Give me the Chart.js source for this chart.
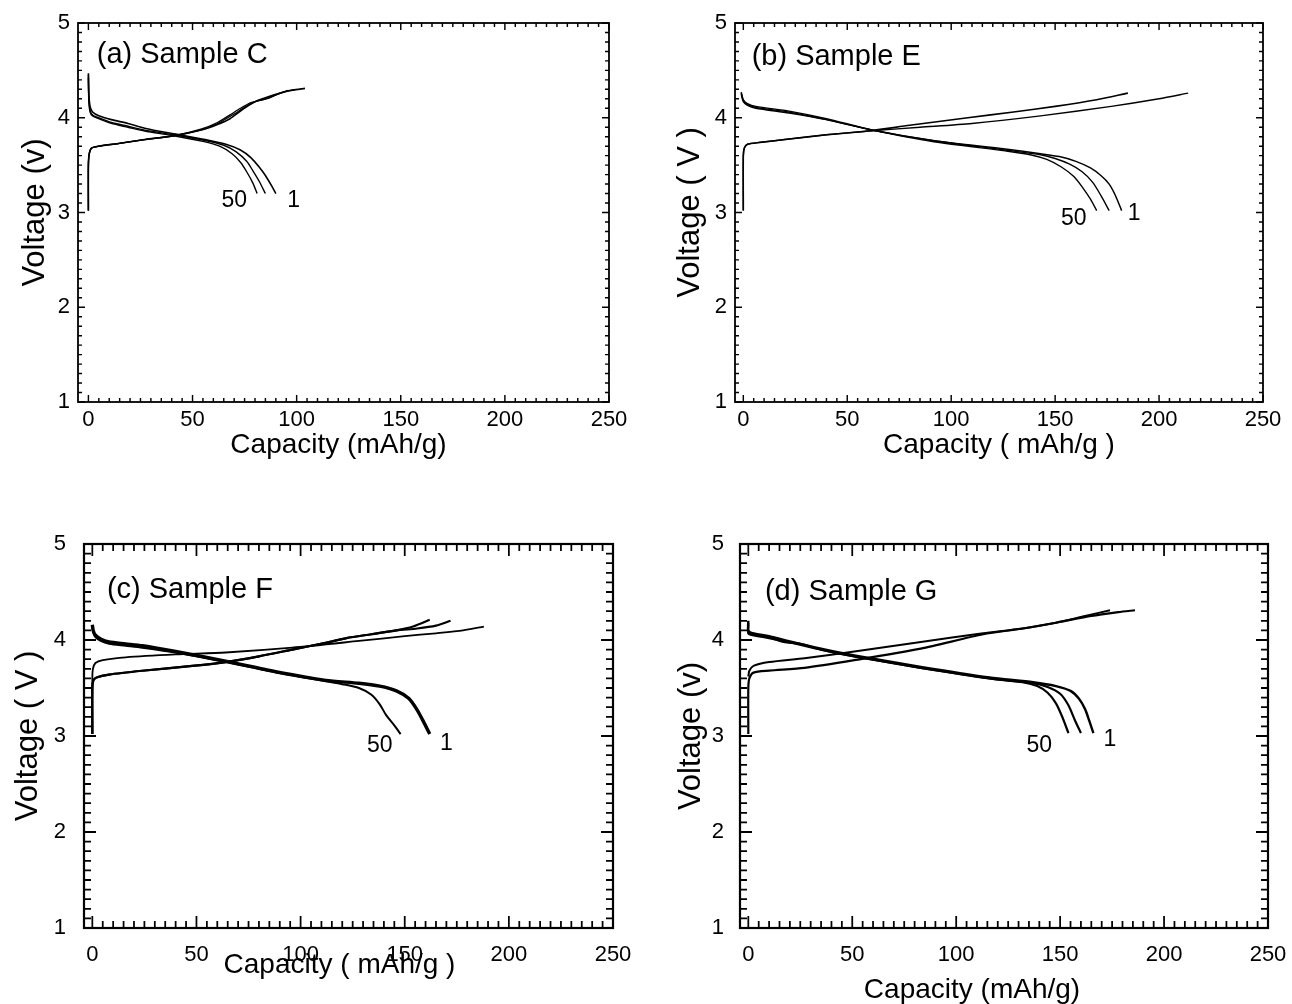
<!DOCTYPE html>
<html>
<head>
<meta charset="utf-8">
<script src="https://cdn.jsdelivr.net/npm/chart.js@4.4.1/dist/chart.umd.min.js"></script>
<style>
body { margin: 0; background: #fff; width: 1292px; height: 1004px; position: relative; overflow: hidden; }
canvas { position: absolute; }
</style>
</head>
<body>
<canvas id="pa"></canvas>
<canvas id="pb"></canvas>
<canvas id="pc"></canvas>
<canvas id="pd"></canvas>
<script>
// tick labels
const xTicks = [0, 50, 100, 150, 200, 250];
const yTicks = [1, 2, 3, 4, 5];

// (a) Sample C  [capacity mAh/g, voltage V]
const aCharge1 = [[0,3.02],[0,3.5],[0.4,3.62],[1.5,3.68],[5,3.7],[15,3.73],[27,3.77],[41,3.81],[54,3.87],[62,3.93],[68,3.99],[73,4.07],[77,4.13],[81,4.18],[86,4.22],[92,4.26],[98,4.29],[104,4.31]];
const aCharge2 = [[0,3.02],[0,3.5],[0.4,3.62],[1.5,3.68],[5,3.7],[15,3.73],[27,3.77],[41,3.81],[54,3.88],[62,3.95],[68,4.03],[73,4.1],[78,4.16],[82,4.18],[87,4.21],[92,4.26],[96,4.29]];
const aCharge3 = [[0,3.02],[0,3.5],[0.4,3.62],[1.5,3.68],[5,3.7],[15,3.73],[27,3.77],[41,3.81],[54,3.87],[63,3.95],[70,4.04],[75,4.11],[80,4.17],[85,4.2],[90,4.24],[95,4.28],[99,4.3]];
const aDischarge1 = [[0,4.47],[0.2,4.25],[0.8,4.12],[2,4.06],[5,4.02],[11,3.98],[19,3.94],[27,3.89],[41,3.83],[56,3.77],[66,3.72],[73,3.66],[78,3.58],[82,3.48],[85,3.39],[88,3.28],[90,3.2]];
const aDischarge2 = [[0,4.45],[0.2,4.2],[0.8,4.08],[2,4.03],[5,4.0],[11,3.95],[19,3.91],[27,3.87],[41,3.82],[56,3.76],[65,3.71],[71,3.64],[76,3.54],[79,3.44],[82,3.33],[85,3.2]];
const aDischarge50 = [[0,4.42],[0.2,4.18],[0.8,4.06],[2,4.02],[5,3.99],[11,3.94],[19,3.9],[27,3.86],[41,3.81],[55,3.75],[63,3.7],[69,3.62],[73,3.53],[76,3.43],[79,3.31],[81,3.2]];

// (b) Sample E
const bCharge1 = [[0,3.02],[0,3.6],[0.5,3.68],[2,3.72],[8,3.74],[20,3.77],[40,3.82],[60,3.86],[80,3.92],[108,4.0],[130,4.06],[150,4.12],[170,4.19],[185,4.26]];
const bCharge2 = [[0,3.02],[0,3.6],[0.5,3.68],[2,3.72],[8,3.74],[20,3.77],[40,3.82],[60,3.86],[85,3.9],[110,3.94],[143,4.02],[177,4.12],[200,4.2],[214,4.26]];
const bDischarge1 = [[-1,4.27],[0,4.19],[2,4.15],[6,4.12],[22,4.07],[40,3.99],[62,3.87],[91,3.76],[126,3.67],[143,3.62],[152,3.59],[160,3.54],[167,3.47],[172,3.39],[176,3.3],[179,3.18],[182,3.02]];
const bDischarge2 = [[-1,4.26],[0,4.18],[2,4.14],[6,4.11],[22,4.06],[40,3.98],[62,3.87],[91,3.76],[126,3.66],[143,3.61],[150,3.57],[157,3.51],[163,3.43],[168,3.32],[172,3.18],[176,3.02]];
const bDischarge50 = [[-1,4.25],[0,4.17],[2,4.13],[6,4.1],[22,4.05],[40,3.98],[62,3.87],[91,3.75],[126,3.65],[138,3.61],[146,3.56],[153,3.48],[159,3.38],[163,3.27],[167,3.14],[170,3.02]];

// (c) Sample F
const cChargeA = [[0,3.02],[0,3.6],[0.3,3.7],[1.5,3.76],[5,3.79],[16,3.82],[40,3.85],[64,3.87],[96,3.92],[128,3.99],[150,4.04],[165,4.07],[178,4.1],[188,4.14]];
const cChargeB = [[0,3.02],[0,3.5],[0.5,3.58],[2,3.61],[8,3.64],[24,3.68],[48,3.73],[64,3.77],[80,3.83],[96,3.9],[112,3.97],[122,4.02],[134,4.06],[146,4.1],[154,4.14],[162,4.21]];
const cChargeC = [[0,3.02],[0,3.5],[0.5,3.58],[2,3.61],[8,3.64],[24,3.68],[48,3.73],[64,3.77],[80,3.83],[96,3.9],[112,3.97],[122,4.02],[134,4.06],[146,4.1],[156,4.12],[165,4.15],[172,4.2]];
const cDischarge1 = [[0,4.16],[0.4,4.1],[1.5,4.05],[4,4.01],[8,3.98],[16,3.96],[24,3.94],[40,3.88],[64,3.78],[88,3.67],[112,3.58],[128,3.55],[138,3.52],[146,3.47],[152,3.39],[156,3.27],[159,3.15],[162,3.02]];
const cDischarge50 = [[0,4.14],[0.4,4.08],[1.5,4.03],[4,3.99],[8,3.96],[16,3.94],[24,3.92],[40,3.87],[64,3.77],[88,3.66],[112,3.57],[120,3.54],[128,3.5],[134,3.43],[138,3.33],[141,3.22],[145,3.11],[148,3.02]];

// (d) Sample G
const dChargeA = [[0,3.62],[0.5,3.68],[2.5,3.73],[10,3.77],[27,3.81],[51,3.88],[83,3.98],[113,4.07],[132,4.12],[148,4.18],[162,4.25],[174,4.31]];
const dChargeB = [[0,3.02],[0,3.5],[0.5,3.6],[2.5,3.66],[10,3.68],[27,3.71],[51,3.79],[83,3.91],[113,4.06],[132,4.12],[148,4.18],[165,4.25],[178,4.29],[186,4.31]];
const dDischarge1 = [[0,4.2],[0,4.1],[2,4.07],[10,4.04],[19,3.99],[35,3.91],[51,3.84],[83,3.72],[116,3.61],[137,3.56],[148,3.52],[155,3.47],[159,3.39],[162,3.28],[164,3.16],[166,3.03]];
const dDischarge2 = [[0,4.18],[0,4.08],[2,4.06],[10,4.03],[17,3.98],[25,3.96],[35,3.9],[51,3.83],[83,3.71],[116,3.6],[137,3.55],[144,3.51],[150,3.44],[154,3.32],[157,3.17],[160,3.03]];
const dDischarge50 = [[0,4.16],[0,4.07],[2,4.05],[10,4.02],[19,3.98],[35,3.9],[51,3.83],[83,3.71],[116,3.6],[132,3.56],[139,3.52],[144,3.45],[148,3.34],[151,3.2],[154,3.03]];

const FONT = '"Liberation Sans", Arial, Helvetica, sans-serif';

const panels = [
  { id: 'pa', box: [78, 23, 609, 402], xMin: -5, name: '(a) Sample C', nameAt: [4, 4.66],
    xTitle: 'Capacity (mAh/g)', yTitle: 'Voltage (v)', xdx: -5, xdy: 43, ydx: -43,
    curves: [aCharge1, aCharge2, aCharge3, aDischarge1, aDischarge2, aDischarge50],
    widths: [1.6, 1.3, 1.3, 1.6, 1.4, 1.4],
    marks: [['50', 70, 3.13], ['1', 98.5, 3.13]],
    lw: 1.8, major: 7, minor: 4, xPad: 5, yPad: 8 },
  { id: 'pb', box: [735, 23, 1263, 402], xMin: -4, name: '(b) Sample E', nameAt: [4, 4.64],
    xTitle: 'Capacity ( mAh/g )', yTitle: 'Voltage ( V )', xdx: 0, xdy: 43, ydx: -45,
    curves: [bCharge1, bCharge2, bDischarge1, bDischarge2, bDischarge50],
    widths: [1.6, 1.4, 1.5, 1.4, 1.4],
    marks: [['50', 159, 2.94], ['1', 188, 2.99]],
    lw: 1.8, major: 7, minor: 4, xPad: 5, yPad: 8 },
  { id: 'pc', box: [84, 544, 613, 928], xMin: -4, name: '(c) Sample F', nameAt: [7, 4.52],
    xTitle: 'Capacity ( mAh/g )', yTitle: 'Voltage ( V )', xdx: -9, xdy: 37, ydx: -56,
    curves: [cChargeA, cChargeB, cChargeC, cDischarge1, cDischarge50],
    widths: [1.8, 2.2, 2.2, 3.4, 2.0],
    marks: [['50', 138, 2.9], ['1', 170, 2.92]],
    lw: 2.2, major: 12, minor: 7, xPad: 14, yPad: 18 },
  { id: 'pd', box: [740, 544, 1268, 928], xMin: -4, name: '(d) Sample G', nameAt: [8, 4.5],
    xTitle: 'Capacity (mAh/g)', yTitle: 'Voltage (v)', xdx: -32, xdy: 62, ydx: -49,
    curves: [dChargeA, dChargeB, dDischarge1, dDischarge2, dDischarge50],
    widths: [2.0, 2.2, 2.4, 2.2, 2.2],
    marks: [['50', 140, 2.9], ['1', 174, 2.96]],
    lw: 2.2, major: 12, minor: 7, xPad: 14, yPad: 16 }
];

// frame with inward major/minor ticks on all four sides
const frameTicks = {
  id: 'frameTicks',
  afterDatasetsDraw(chart, args, o) {
    const { ctx, chartArea: a, scales: { x, y } } = chart;
    ctx.save();
    ctx.strokeStyle = '#000';
    ctx.lineWidth = o.lw;
    ctx.strokeRect(a.left, a.top, a.right - a.left, a.bottom - a.top);
    ctx.lineWidth = o.lw * 0.8;
    ctx.beginPath();
    for (let v = 0; v <= 250; v += 5) {
      const px = x.getPixelForValue(v);
      const len = v % 50 === 0 ? o.major : o.minor;
      ctx.moveTo(px, a.bottom); ctx.lineTo(px, a.bottom - len);
      ctx.moveTo(px, a.top); ctx.lineTo(px, a.top + len);
    }
    for (let i = 10; i <= 50; i++) {
      const py = y.getPixelForValue(i / 10);
      const len = i % 10 === 0 ? o.major : o.minor;
      ctx.moveTo(a.left, py); ctx.lineTo(a.left + len, py);
      ctx.moveTo(a.right, py); ctx.lineTo(a.right - len, py);
    }
    ctx.stroke();
    ctx.restore();
  }
};

// panel name, cycle labels and axis titles
const texts = {
  id: 'texts',
  afterDraw(chart, args, o) {
    const { ctx, chartArea: a, scales: { x, y } } = chart;
    ctx.save();
    ctx.fillStyle = '#000';
    ctx.textBaseline = 'middle';
    ctx.font = '29px ' + FONT;
    ctx.textAlign = 'left';
    ctx.fillText(o.name, x.getPixelForValue(o.nameAt[0]), y.getPixelForValue(o.nameAt[1]));
    ctx.font = '23px ' + FONT;
    ctx.textAlign = 'center';
    o.marks.forEach(m => ctx.fillText(m[0], x.getPixelForValue(m[1]), y.getPixelForValue(m[2])));
    ctx.font = '28px ' + FONT;
    ctx.fillText(o.xTitle, (a.left + a.right) / 2 + o.xdx, a.bottom + o.xdy);
    ctx.font = '31px ' + FONT;
    ctx.translate(a.left + o.ydx, (a.top + a.bottom) / 2);
    ctx.rotate(-Math.PI / 2);
    ctx.fillText(o.yTitle, 0, 0);
    ctx.restore();
  }
};

const PADL = 80, PADT = 14, PADR = 22, PADB = 90;

// keep the plot box exactly where the reference has it
const noAutoPad = s => { s.paddingTop = 0; s.paddingBottom = 0; s.paddingLeft = 0; s.paddingRight = 0; };

panels.forEach(p => {
  const [L, T, R, B] = p.box;
  const cv = document.getElementById(p.id);
  cv.width = R - L + PADL + PADR;
  cv.height = B - T + PADT + PADB;
  cv.style.left = (L - PADL) + 'px';
  cv.style.top = (T - PADT) + 'px';

  new Chart(cv, {
    type: 'line',
    data: {
      datasets: p.curves.map((c, i) => ({
        data: c.map(d => ({ x: d[0], y: d[1] })),
        borderColor: '#000',
        borderWidth: p.widths[i],
        pointRadius: 0,
        tension: 0.25,
        fill: false
      }))
    },
    options: {
      responsive: false,
      animation: false,
      devicePixelRatio: 1,
      layout: { padding: { top: PADT, right: PADR, left: 0, bottom: 0 } },
      plugins: {
        legend: { display: false },
        tooltip: { enabled: false },
        frameTicks: { lw: p.lw, major: p.major, minor: p.minor },
        texts: p
      },
      scales: {
        x: {
          type: 'linear',
          min: p.xMin,
          max: 250,
          afterBuildTicks: s => { s.ticks = xTicks.map(v => ({ value: v })); },
          afterFit: s => { s.height = PADB; noAutoPad(s); },
          grid: { display: false, drawTicks: false },
          border: { display: false },
          ticks: { padding: p.xPad, color: '#000', font: { family: FONT, size: 22 }, maxRotation: 0, autoSkip: false }
        },
        y: {
          type: 'linear',
          min: 1,
          max: 5,
          afterBuildTicks: s => { s.ticks = yTicks.map(v => ({ value: v })); },
          afterFit: s => { s.width = PADL; noAutoPad(s); },
          grid: { display: false, drawTicks: false },
          border: { display: false },
          ticks: { padding: p.yPad, color: '#000', font: { family: FONT, size: 22 } }
        }
      }
    },
    plugins: [frameTicks, texts]
  });
});
</script>
</body>
</html>
